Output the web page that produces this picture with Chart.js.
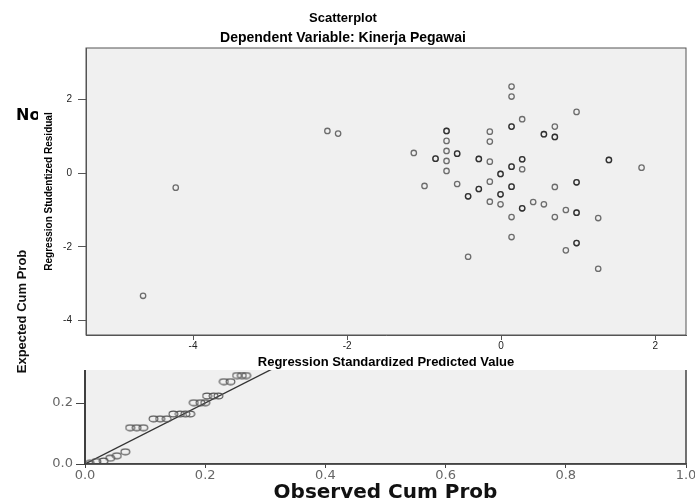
<!DOCTYPE html>
<html>
<head>
<meta charset="utf-8">
<title>Scatterplot - Kinerja Pegawai</title>
<script src="https://cdn.jsdelivr.net/npm/chart.js@4.4.1/dist/chart.umd.min.js"></script>
<style>
  html, body { margin: 0; padding: 0; background: #fff; overflow: hidden; width: 695px; height: 502px; position: relative; }
  canvas { position: absolute; left: 0; top: 0; }
  #ppChart { z-index: 0; }
  #scatterChart { z-index: 1; }
</style>
</head>
<body>
<canvas id="ppChart" width="720" height="502"></canvas>
<canvas id="scatterChart" width="695" height="370"></canvas>
<script>
// Scatterplot data (regression standardized predicted value vs studentized residual)
const predictedValue = [
  -4.649, -4.225, -2.256, -2.117, -1.134, -0.995,
  -0.852, -0.852, -0.709, -0.709, -0.709, -0.709, -0.709, -0.709,
  -0.571, -0.571, -0.571, -0.429, -0.429, -0.429,
  -0.290, -0.290, -0.290, -0.290,
  -0.147, -0.147, -0.147, -0.147, -0.147,
  -0.008, -0.008, -0.008, -0.008, -0.008,
  0.135, 0.135, 0.135, 0.135, 0.135, 0.135, 0.135, 0.135, 0.135, 0.135,
  0.273, 0.273, 0.273, 0.273, 0.273, 0.273, 0.416,
  0.555, 0.555, 0.555, 0.697, 0.697, 0.697, 0.697, 0.697,
  0.840, 0.840, 0.979, 0.979, 0.979, 0.979, 0.979, 0.979, 0.979,
  1.260, 1.260, 1.399, 1.399, 1.823
];
const studentizedResidual = [
  -3.326, -0.391, 1.149, 1.077, 0.552, -0.345,
  0.397, 0.397, 1.149, 1.149, 0.878, 0.606, 0.334, 0.063,
  -0.291, 0.533, 0.533, -0.625, -0.625, -2.266,
  0.389, 0.389, -0.427, -0.427,
  1.130, 0.859, 0.315, -0.228, -0.772,
  -0.019, -0.019, -0.571, -0.571, -0.842,
  2.353, 2.082, 1.266, 1.266, 0.180, 0.180, -0.364, -0.364, -1.188, -1.731,
  1.467, 0.380, 0.380, 0.109, -0.951, -0.951, -0.780,
  1.060, 1.060, -0.842, 1.266, 0.986, 0.986, -0.372, -1.188,
  -0.997, -2.093, 1.666, -0.245, -0.245, -1.071, -1.071, -1.894, -1.894,
  -1.215, -2.592, 0.361, 0.361, 0.152
];
const scatterXTicks = [-4, -2, 0, 2];
const scatterYTicks = [-4, -2, 0, 2];

// Normal P-P plot data (only the visible lower part)
const observedCumProb = [
  0.008, 0.019, 0.031, 0.042, 0.053, 0.067,
  0.075, 0.086, 0.097,
  0.114, 0.125, 0.136,
  0.147, 0.158, 0.167, 0.175,
  0.181, 0.192, 0.200,
  0.203, 0.214, 0.222,
  0.231, 0.242,
  0.253, 0.261, 0.268
];
const expectedCumProb = [
  0.002, 0.008, 0.010, 0.019, 0.027, 0.040,
  0.119, 0.119, 0.119,
  0.148, 0.148, 0.148,
  0.164, 0.164, 0.164, 0.164,
  0.201, 0.201, 0.201,
  0.223, 0.223, 0.223,
  0.270, 0.270,
  0.290, 0.290, 0.290
];
const ppTicks = [0, 0.2, 0.4, 0.6, 0.8, 1.0];

Chart.defaults.font.family = '"Liberation Sans", Arial, sans-serif';
Chart.defaults.color = '#222';

// fills the plot area grey, draws the frame, optionally paints white over part of the canvas
const plotFrame = {
  id: 'plotFrame',
  beforeDraw(chart, args, opts) {
    const { ctx, chartArea: a } = chart;
    ctx.save();
    if (opts.coverFrom != null) {
      ctx.fillStyle = '#fff';
      ctx.fillRect(opts.coverFrom, 0, chart.width - opts.coverFrom, chart.height);
    }
    ctx.fillStyle = opts.fill;
    ctx.fillRect(a.left, a.top, a.right - a.left, a.bottom - a.top);
    ctx.restore();
  },
  afterDatasetsDraw(chart, args, opts) {
    const { ctx, chartArea: a } = chart;
    ctx.save();
    ctx.strokeStyle = opts.stroke;
    ctx.lineWidth = opts.lineWidth;
    ctx.strokeRect(a.left, a.top, a.right - a.left, a.bottom - a.top);
    ctx.restore();
  }
};

function fixedTicks(values) {
  return scale => { scale.ticks = values.map(v => ({ value: v })); };
}

// ellipse marker used by the P-P plot
function ellipseMarker() {
  const c = document.createElement('canvas');
  c.width = 11; c.height = 8;
  const g = c.getContext('2d');
  g.strokeStyle = '#555';
  g.lineWidth = 1.1;
  g.beginPath();
  g.ellipse(5.5, 4, 4.4, 2.9, 0, 0, Math.PI * 2);
  g.stroke();
  return c;
}

// ---- Normal P-P plot (drawn first, mostly covered) ----
new Chart(document.getElementById('ppChart'), {
  type: 'scatter',
  data: {
    datasets: [
      {
        data: observedCumProb.map((x, i) => ({ x, y: expectedCumProb[i] })),
        pointStyle: ellipseMarker(),
        pointRadius: 4
      },
      {
        type: 'line',
        data: [{ x: 0, y: 0 }, { x: 1, y: 1 }],
        borderColor: '#333',
        borderWidth: 1.3,
        pointRadius: 0
      }
    ]
  },
  options: {
    responsive: false,
    devicePixelRatio: 1,
    animation: false,
    layout: { padding: { left: 16, right: 34, top: 0, bottom: 0 } },
    plugins: {
      legend: { display: false },
      tooltip: { enabled: false },
      title: {
        display: true,
        text: 'Normal P-P Plot of Regression Standardized Residual',
        align: 'start',
        color: '#000',
        font: { family: '"DejaVu Sans", sans-serif', size: 16, weight: 'bold', lineHeight: 1.2 },
        padding: { top: 106, bottom: 33.8 }
      },
      plotFrame: { fill: '#f0f0f0', stroke: '#444', lineWidth: 1.5 }
    },
    scales: {
      x: {
        type: 'linear', min: 0, max: 1,
        afterBuildTicks: fixedTicks(ppTicks),
        afterFit: s => { s.height = 38; },
        border: { display: true, color: '#444', width: 1.5 },
        grid: { drawOnChartArea: false, drawTicks: true, tickLength: 4, color: '#444' },
        ticks: {
          padding: 0, color: '#666', maxRotation: 0, autoSkip: false,
          font: { family: '"DejaVu Sans", sans-serif', size: 13 },
          callback: v => Number(v).toFixed(1)
        },
        title: {
          display: true, text: 'Observed Cum Prob', color: '#111',
          font: { family: '"DejaVu Sans", sans-serif', size: 20, weight: 'bold', lineHeight: 1 },
          padding: { top: 0, bottom: -1 }
        }
      },
      y: {
        type: 'linear', min: 0, max: 1,
        afterBuildTicks: fixedTicks(ppTicks),
        afterFit: s => { s.width = 69; },
        border: { display: true, color: '#333', width: 2 },
        grid: { drawOnChartArea: false, drawTicks: true, tickLength: 9, color: '#444' },
        ticks: {
          padding: 3, color: '#666', autoSkip: false,
          font: { family: '"DejaVu Sans", sans-serif', size: 13 },
          callback: v => Number(v).toFixed(1)
        },
        title: {
          display: true, text: 'Expected Cum Prob', color: '#111',
          font: { family: '"Liberation Sans Narrow", "Liberation Sans", sans-serif', size: 13, weight: 'bold', lineHeight: 1 },
          padding: { top: 0, bottom: 0 }
        }
      }
    }
  },
  plugins: [plotFrame]
});

// ---- Scatterplot on top ----
new Chart(document.getElementById('scatterChart'), {
  type: 'scatter',
  data: {
    datasets: [{
      data: predictedValue.map((x, i) => ({ x, y: studentizedResidual[i] })),
      pointStyle: 'circle',
      pointRadius: 2.7,
      borderWidth: 1.3,
      borderColor: 'rgba(0,0,0,0.55)',
      backgroundColor: 'rgba(0,0,0,0)'
    }]
  },
  options: {
    responsive: false,
    devicePixelRatio: 1,
    animation: false,
    layout: { padding: { left: 0, right: 9, top: 0, bottom: 0 } },
    plugins: {
      legend: { display: false },
      tooltip: { enabled: false },
      title: {
        display: true, text: 'Scatterplot', color: '#000',
        font: { size: 13, weight: 'bold' },
        padding: { top: 11, bottom: 3 }
      },
      subtitle: {
        display: true, text: 'Dependent Variable: Kinerja Pegawai', color: '#000',
        font: { size: 14, weight: 'bold' },
        padding: { top: 0, bottom: 1.6 }
      },
      plotFrame: { fill: '#f0f0f0', stroke: '#555', lineWidth: 1, coverFrom: 38 }
    },
    scales: {
      x: {
        type: 'linear', min: -5.39, max: 2.40,
        afterBuildTicks: fixedTicks(scatterXTicks),
        afterFit: s => { s.height = 35; },
        border: { display: true, color: '#555', width: 1 },
        grid: { drawOnChartArea: false, drawTicks: true, tickLength: 5, color: '#555' },
        ticks: { padding: 0, color: '#222', maxRotation: 0, autoSkip: false, font: { size: 10 } },
        title: {
          display: true, text: 'Regression Standardized Predicted Value', color: '#000',
          font: { size: 13, weight: 'bold' },
          padding: { top: 0, bottom: 0 }
        }
      },
      y: {
        type: 'linear', min: -4.39, max: 3.40,
        afterBuildTicks: fixedTicks(scatterYTicks),
        afterFit: s => { s.width = 86; },
        border: { display: true, color: '#555', width: 1 },
        grid: { drawOnChartArea: false, drawTicks: true, tickLength: 8, color: '#555' },
        ticks: { padding: 6, color: '#222', autoSkip: false, font: { size: 10 } },
        title: {
          display: true, text: 'Regression Studentized Residual', color: '#000',
          font: { family: '"Liberation Sans Narrow", "Liberation Sans", sans-serif', size: 10, weight: 'bold', lineHeight: 1.1 },
          padding: { top: 44, bottom: 0 }
        }
      }
    }
  },
  plugins: [plotFrame]
});
</script>
</body>
</html>
